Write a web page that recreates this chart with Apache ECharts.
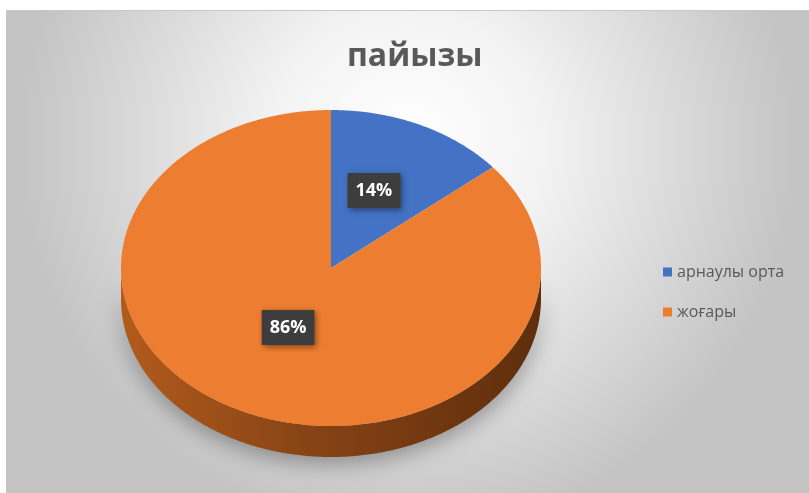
<!DOCTYPE html>
<html>
<head>
<meta charset="utf-8">
<script src="https://cdn.jsdelivr.net/npm/echarts@6/dist/echarts.min.js"></script>
<style>
  html, body { margin: 0; padding: 0; background: #ffffff; }
  #chart { width: 809px; height: 493px; }
</style>
</head>
<body>
<div id="chart"></div>
<script>
const titleText = 'пайызы'
const categories = ['арнаулы орта', 'жоғары']
const values = [14, 86]
const topColors = ['#4472C4', '#ED7D31']
const sideColors = [
  ['#5b7fc0', '#3a5c9c', '#243f72'],
  ['#b25b1c', '#874315', '#5e2e0c']
]

// geometry of the tilted pie (ellipse top + visible side)
const cx = 331, cy = 268, rx = 210, ry = 158, depth = 31
const total = values.reduce((a, b) => a + b, 0)

const pt = (a, f, dy) => [cx + rx * f * Math.sin(a), cy - ry * f * Math.cos(a) + (dy || 0)]

const arc = (a0, a1, dy) => {
  const n = Math.max(2, Math.ceil((a1 - a0) / 0.01))
  const pts = []
  for (let i = 0; i <= n; i++) pts.push(pt(a0 + (a1 - a0) * i / n, 1, dy))
  return pts
}

const renderSlice = (params, api) => {
  const i = params.seriesIndex
  const before = values.slice(0, i).reduce((a, b) => a + b, 0)
  const start = before / total * Math.PI * 2
  const end = start + api.value(0) / total * Math.PI * 2
  const children = []

  // side wall, only the front half is visible
  const s = Math.max(start, Math.PI / 2)
  const e = Math.min(end, Math.PI * 1.5)
  if (e > s) {
    children.push({
      type: 'polygon',
      z2: 1,
      shape: { points: arc(s, e, 0).concat(arc(s, e, depth).reverse()) },
      style: {
        fill: {
          type: 'linear', x: 0, y: 0, x2: 1, y2: 0,
          colorStops: [
            { offset: 0, color: sideColors[i][0] },
            { offset: 0.45, color: sideColors[i][1] },
            { offset: 1, color: sideColors[i][2] }
          ]
        },
        shadowColor: 'rgba(0, 0, 0, 0.35)',
        shadowBlur: 22,
        shadowOffsetY: 6
      }
    })
  }

  // top face
  children.push({
    type: 'polygon',
    z2: 5,
    shape: { points: [[cx, cy]].concat(arc(start, end, 0)) },
    style: { fill: topColors[i] }
  })

  // data label
  const mid = (start + end) / 2
  const lp = pt(mid, 0.48, -9)
  children.push({
    type: 'text',
    z2: 10,
    x: lp[0],
    y: lp[1],
    style: {
      text: Math.round(api.value(0) / total * 100) + '%',
      fill: '#ffffff',
      font: 'bold 18px "Open Sans", sans-serif',
      align: 'center',
      verticalAlign: 'middle',
      backgroundColor: '#3d3d3d',
      padding: [9, 8, 8, 8],
      shadowColor: 'rgba(0, 0, 0, 0.45)',
      shadowBlur: 6,
      shadowOffsetX: 2,
      shadowOffsetY: 2
    }
  })

  return { type: 'group', children }
}

const chart = echarts.init(document.getElementById('chart'))

chart.setOption({
  animation: false,
  color: topColors,
  graphic: [
    {
      type: 'rect',
      z: -10,
      shape: { x: 6, y: 10, width: 803, height: 483 },
      style: {
        fill: {
          type: 'radial', x: 0.5, y: 0.28, r: 0.8,
          colorStops: [
            { offset: 0, color: '#ffffff' },
            { offset: 0.35, color: '#f3f3f3' },
            { offset: 1, color: '#c4c4c4' }
          ]
        }
      }
    },
    {
      type: 'line',
      z: -9,
      shape: { x1: 6, y1: 10.5, x2: 809, y2: 10.5 },
      style: { stroke: '#c8c8c8', lineWidth: 1 }
    }
  ],
  title: {
    text: titleText,
    left: 342,
    top: 36,
    textStyle: {
      color: '#595959',
      fontSize: 32,
      fontWeight: 'bold',
      fontFamily: 'Open Sans'
    }
  },
  legend: {
    orient: 'vertical',
    left: 658,
    top: 259,
    itemWidth: 9,
    itemHeight: 9,
    itemGap: 24,
    icon: 'rect',
    data: categories,
    textStyle: {
      color: '#595959',
      fontSize: 16,
      fontFamily: 'Open Sans'
    }
  },
  series: categories.map((name, i) => ({
    type: 'custom',
    name,
    coordinateSystem: 'none',
    itemStyle: { color: topColors[i] },
    renderItem: renderSlice,
    data: [values[i]]
  }))
})

window.addEventListener('resize', () => chart.resize())
</script>
</body>
</html>
